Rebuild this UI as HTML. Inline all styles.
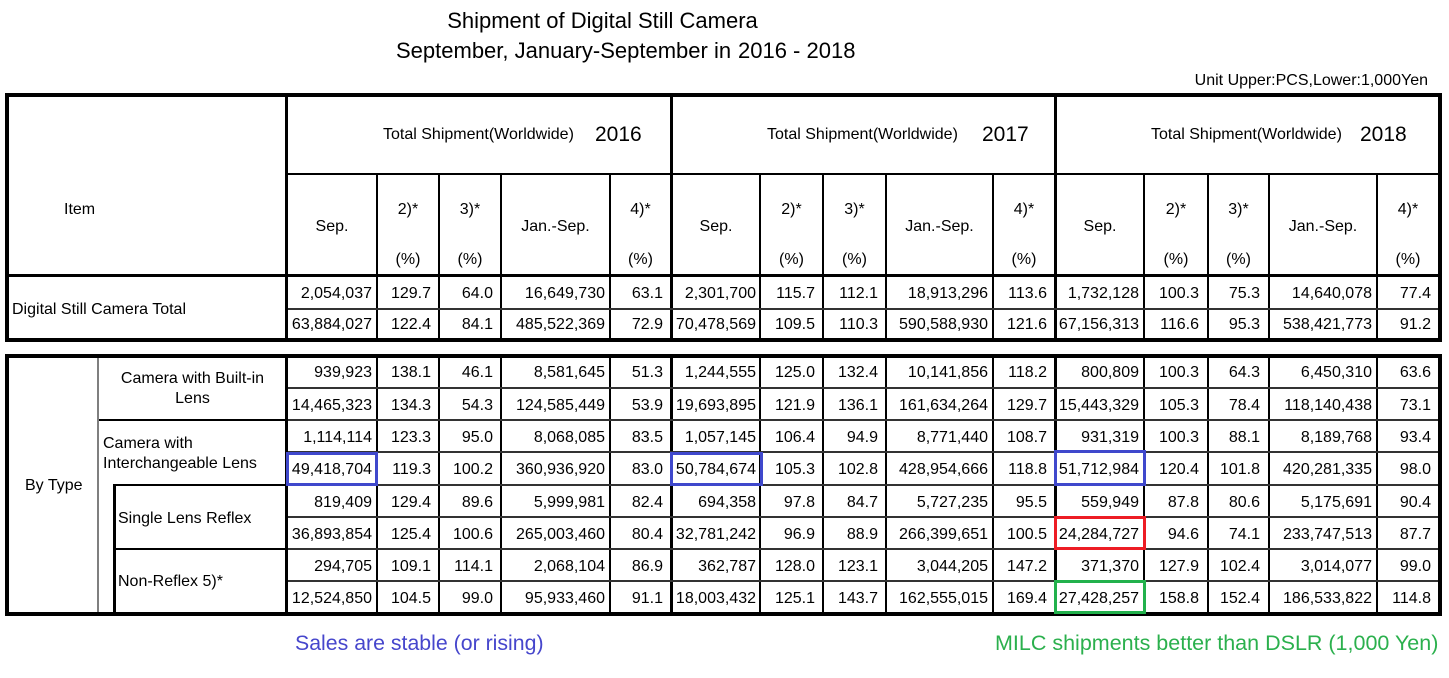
<!DOCTYPE html>
<html><head><meta charset="utf-8">
<style>
*{margin:0;padding:0}
body{width:1449px;height:678px;background:#fff;position:relative;overflow:hidden;font-family:"Liberation Sans",Arial,sans-serif;color:#000}
.a{position:absolute;white-space:nowrap}
.l{position:absolute;background:#000;display:block}
.g{background:#333}
.box{position:absolute;border:4px solid #000;box-sizing:border-box}
.bx{position:absolute;border:3px solid;box-sizing:border-box}
.row{position:absolute;left:0;width:1449px;height:31px;line-height:31px;font-size:16px}
.row span{position:absolute;top:0;height:31px;text-align:right;box-sizing:border-box;white-space:nowrap}
.c0{left:288px;width:88px;padding-right:4px}
.c1{left:378px;width:60px;padding-right:7px}
.c2{left:440px;width:60px;padding-right:7px}
.c3{left:502px;width:107px;padding-right:4px}
.c4{left:611px;width:59px;padding-right:7px}
.c5{left:673px;width:86px;padding-right:3px}
.c6{left:761px;width:61px;padding-right:7px}
.c7{left:824px;width:61px;padding-right:7px}
.c8{left:887px;width:105px;padding-right:4px}
.c9{left:994px;width:60px;padding-right:7px}
.c10{left:1057px;width:86px;padding-right:4px}
.c11{left:1145px;width:62px;padding-right:8px}
.c12{left:1209px;width:59px;padding-right:8px}
.c13{left:1270px;width:106px;padding-right:4px}
.c14{left:1378px;width:60px;padding-right:7px}
.h{position:absolute;text-align:center;font-size:16px;white-space:nowrap;height:20px;line-height:20px}
.t16{font-size:16px;height:20px;line-height:20px}
</style></head><body>

<!-- Title -->
<div class="a" style="left:0;width:1205px;text-align:center;top:10px;font-size:22px;line-height:22px;height:22px">Shipment of Digital Still Camera</div>
<div class="a" style="left:396px;top:40px;font-size:22px;line-height:22px;height:22px">September, January-September in</div>
<div class="a" style="left:738px;top:40px;font-size:22px;line-height:22px;height:22px">2016 - 2018</div>
<div class="a" style="left:100px;width:1328px;text-align:right;top:71px;font-size:16px;line-height:20px;height:20px">Unit Upper:PCS,Lower:1,000Yen</div>

<!-- Table 1 frame -->
<div class="box" style="left:5px;top:93px;width:1437px;height:249px"></div>
<i class="l" style="left:285px;top:93px;width:3px;height:249px"></i>
<i class="l" style="left:670px;top:93px;width:3px;height:249px"></i>
<i class="l" style="left:1054px;top:93px;width:3px;height:249px"></i>
<i class="l" style="left:288px;top:173px;width:1150px;height:2px"></i>
<i class="l" style="left:5px;top:274px;width:1437px;height:3px"></i>
<i class="l" style="left:376px;top:175px;width:2px;height:165px"></i>
<i class="l" style="left:438px;top:175px;width:2px;height:165px"></i>
<i class="l" style="left:500px;top:175px;width:2px;height:165px"></i>
<i class="l" style="left:609px;top:175px;width:2px;height:165px"></i>
<i class="l" style="left:759px;top:175px;width:2px;height:165px"></i>
<i class="l" style="left:822px;top:175px;width:2px;height:165px"></i>
<i class="l" style="left:885px;top:175px;width:2px;height:165px"></i>
<i class="l" style="left:992px;top:175px;width:2px;height:165px"></i>
<i class="l" style="left:1143px;top:175px;width:2px;height:165px"></i>
<i class="l" style="left:1207px;top:175px;width:2px;height:165px"></i>
<i class="l" style="left:1268px;top:175px;width:2px;height:165px"></i>
<i class="l" style="left:1376px;top:175px;width:2px;height:165px"></i>
<i class="l g" style="left:288px;top:308px;width:1150px;height:2px"></i>

<!-- Table 1 header -->
<div class="a t16" style="left:64px;top:200px">Item</div>
<div class="a t16" style="left:12px;top:300px">Digital Still Camera Total</div>

<div class="a t16" style="left:383px;top:125px">Total Shipment(Worldwide)</div>
<div class="a" style="left:595px;top:122px;font-size:21px;line-height:25px;height:25px">2016</div>
<div class="a t16" style="left:767px;top:125px">Total Shipment(Worldwide)</div>
<div class="a" style="left:982px;top:122px;font-size:21px;line-height:25px;height:25px">2017</div>
<div class="a t16" style="left:1151px;top:125px">Total Shipment(Worldwide)</div>
<div class="a" style="left:1360px;top:122px;font-size:21px;line-height:25px;height:25px">2018</div>

<!-- header row 2, 2016 -->
<div class="h" style="left:288px;width:88px;top:217px">Sep.</div>
<div class="h" style="left:378px;width:60px;top:200px">2)*</div>
<div class="h" style="left:378px;width:60px;top:250px">(%)</div>
<div class="h" style="left:440px;width:60px;top:200px">3)*</div>
<div class="h" style="left:440px;width:60px;top:250px">(%)</div>
<div class="h" style="left:502px;width:107px;top:217px">Jan.-Sep.</div>
<div class="h" style="left:611px;width:59px;top:200px">4)*</div>
<div class="h" style="left:611px;width:59px;top:250px">(%)</div>
<!-- 2017 -->
<div class="h" style="left:673px;width:86px;top:217px">Sep.</div>
<div class="h" style="left:761px;width:61px;top:200px">2)*</div>
<div class="h" style="left:761px;width:61px;top:250px">(%)</div>
<div class="h" style="left:824px;width:61px;top:200px">3)*</div>
<div class="h" style="left:824px;width:61px;top:250px">(%)</div>
<div class="h" style="left:887px;width:105px;top:217px">Jan.-Sep.</div>
<div class="h" style="left:994px;width:60px;top:200px">4)*</div>
<div class="h" style="left:994px;width:60px;top:250px">(%)</div>
<!-- 2018 -->
<div class="h" style="left:1057px;width:86px;top:217px">Sep.</div>
<div class="h" style="left:1145px;width:62px;top:200px">2)*</div>
<div class="h" style="left:1145px;width:62px;top:250px">(%)</div>
<div class="h" style="left:1209px;width:59px;top:200px">3)*</div>
<div class="h" style="left:1209px;width:59px;top:250px">(%)</div>
<div class="h" style="left:1270px;width:106px;top:217px">Jan.-Sep.</div>
<div class="h" style="left:1378px;width:60px;top:200px">4)*</div>
<div class="h" style="left:1378px;width:60px;top:250px">(%)</div>

<!-- Table 1 data -->
<div class="row" style="top:278px"><span class="c0">2,054,037</span><span class="c1">129.7</span><span class="c2">64.0</span><span class="c3">16,649,730</span><span class="c4">63.1</span><span class="c5">2,301,700</span><span class="c6">115.7</span><span class="c7">112.1</span><span class="c8">18,913,296</span><span class="c9">113.6</span><span class="c10">1,732,128</span><span class="c11">100.3</span><span class="c12">75.3</span><span class="c13">14,640,078</span><span class="c14">77.4</span></div>
<div class="row" style="top:309px"><span class="c0">63,884,027</span><span class="c1">122.4</span><span class="c2">84.1</span><span class="c3">485,522,369</span><span class="c4">72.9</span><span class="c5">70,478,569</span><span class="c6">109.5</span><span class="c7">110.3</span><span class="c8">590,588,930</span><span class="c9">121.6</span><span class="c10">67,156,313</span><span class="c11">116.6</span><span class="c12">95.3</span><span class="c13">538,421,773</span><span class="c14">91.2</span></div>

<!-- Table 2 frame -->
<div class="box" style="left:5px;top:354px;width:1437px;height:262px"></div>
<i class="l" style="left:285px;top:354px;width:3px;height:262px"></i>
<i class="l" style="left:670px;top:354px;width:3px;height:262px"></i>
<i class="l" style="left:1054px;top:354px;width:3px;height:262px"></i>
<i class="l" style="left:97px;top:358px;width:2px;height:254px;background:#7f7f7f"></i>
<i class="l" style="left:376px;top:358px;width:2px;height:254px"></i>
<i class="l" style="left:438px;top:358px;width:2px;height:254px"></i>
<i class="l" style="left:500px;top:358px;width:2px;height:254px"></i>
<i class="l" style="left:609px;top:358px;width:2px;height:254px"></i>
<i class="l" style="left:759px;top:358px;width:2px;height:254px"></i>
<i class="l" style="left:822px;top:358px;width:2px;height:254px"></i>
<i class="l" style="left:885px;top:358px;width:2px;height:254px"></i>
<i class="l" style="left:992px;top:358px;width:2px;height:254px"></i>
<i class="l" style="left:1143px;top:358px;width:2px;height:254px"></i>
<i class="l" style="left:1207px;top:358px;width:2px;height:254px"></i>
<i class="l" style="left:1268px;top:358px;width:2px;height:254px"></i>
<i class="l" style="left:1376px;top:358px;width:2px;height:254px"></i>
<i class="l g" style="left:288px;top:387px;width:1150px;height:2px"></i>
<i class="l g" style="left:288px;top:419px;width:1150px;height:2px"></i>
<i class="l g" style="left:288px;top:451px;width:1150px;height:2px"></i>
<i class="l g" style="left:288px;top:484px;width:1150px;height:2px"></i>
<i class="l g" style="left:288px;top:516px;width:1150px;height:2px"></i>
<i class="l g" style="left:288px;top:548px;width:1150px;height:2px"></i>
<i class="l g" style="left:288px;top:580px;width:1150px;height:2px"></i>
<i class="l" style="left:99px;top:419px;width:186px;height:2px"></i>
<i class="l" style="left:113px;top:484px;width:172px;height:2px"></i>
<i class="l" style="left:113px;top:548px;width:172px;height:2px"></i>
<i class="l" style="left:113px;top:484px;width:3px;height:130px"></i>

<!-- Table 2 labels -->
<div class="a t16" style="left:25px;top:476px">By Type</div>
<div class="a t16" style="left:99px;width:187px;text-align:center;top:369px">Camera with Built-in</div>
<div class="a t16" style="left:99px;width:187px;text-align:center;top:389px">Lens</div>
<div class="a t16" style="left:103px;top:434px">Camera with</div>
<div class="a t16" style="left:103px;top:454px">Interchangeable Lens</div>
<div class="a t16" style="left:118px;top:509px">Single Lens Reflex</div>
<div class="a t16" style="left:118px;top:572px">Non-Reflex 5)*</div>

<!-- Table 2 data -->
<div class="row" style="top:357px"><span class="c0">939,923</span><span class="c1">138.1</span><span class="c2">46.1</span><span class="c3">8,581,645</span><span class="c4">51.3</span><span class="c5">1,244,555</span><span class="c6">125.0</span><span class="c7">132.4</span><span class="c8">10,141,856</span><span class="c9">118.2</span><span class="c10">800,809</span><span class="c11">100.3</span><span class="c12">64.3</span><span class="c13">6,450,310</span><span class="c14">63.6</span></div>
<div class="row" style="top:390px"><span class="c0">14,465,323</span><span class="c1">134.3</span><span class="c2">54.3</span><span class="c3">124,585,449</span><span class="c4">53.9</span><span class="c5">19,693,895</span><span class="c6">121.9</span><span class="c7">136.1</span><span class="c8">161,634,264</span><span class="c9">129.7</span><span class="c10">15,443,329</span><span class="c11">105.3</span><span class="c12">78.4</span><span class="c13">118,140,438</span><span class="c14">73.1</span></div>
<div class="row" style="top:422px"><span class="c0">1,114,114</span><span class="c1">123.3</span><span class="c2">95.0</span><span class="c3">8,068,085</span><span class="c4">83.5</span><span class="c5">1,057,145</span><span class="c6">106.4</span><span class="c7">94.9</span><span class="c8">8,771,440</span><span class="c9">108.7</span><span class="c10">931,319</span><span class="c11">100.3</span><span class="c12">88.1</span><span class="c13">8,189,768</span><span class="c14">93.4</span></div>
<div class="row" style="top:454px"><span class="c0">49,418,704</span><span class="c1">119.3</span><span class="c2">100.2</span><span class="c3">360,936,920</span><span class="c4">83.0</span><span class="c5">50,784,674</span><span class="c6">105.3</span><span class="c7">102.8</span><span class="c8">428,954,666</span><span class="c9">118.8</span><span class="c10">51,712,984</span><span class="c11">120.4</span><span class="c12">101.8</span><span class="c13">420,281,335</span><span class="c14">98.0</span></div>
<div class="row" style="top:487px"><span class="c0">819,409</span><span class="c1">129.4</span><span class="c2">89.6</span><span class="c3">5,999,981</span><span class="c4">82.4</span><span class="c5">694,358</span><span class="c6">97.8</span><span class="c7">84.7</span><span class="c8">5,727,235</span><span class="c9">95.5</span><span class="c10">559,949</span><span class="c11">87.8</span><span class="c12">80.6</span><span class="c13">5,175,691</span><span class="c14">90.4</span></div>
<div class="row" style="top:519px"><span class="c0">36,893,854</span><span class="c1">125.4</span><span class="c2">100.6</span><span class="c3">265,003,460</span><span class="c4">80.4</span><span class="c5">32,781,242</span><span class="c6">96.9</span><span class="c7">88.9</span><span class="c8">266,399,651</span><span class="c9">100.5</span><span class="c10">24,284,727</span><span class="c11">94.6</span><span class="c12">74.1</span><span class="c13">233,747,513</span><span class="c14">87.7</span></div>
<div class="row" style="top:551px"><span class="c0">294,705</span><span class="c1">109.1</span><span class="c2">114.1</span><span class="c3">2,068,104</span><span class="c4">86.9</span><span class="c5">362,787</span><span class="c6">128.0</span><span class="c7">123.1</span><span class="c8">3,044,205</span><span class="c9">147.2</span><span class="c10">371,370</span><span class="c11">127.9</span><span class="c12">102.4</span><span class="c13">3,014,077</span><span class="c14">99.0</span></div>
<div class="row" style="top:583px"><span class="c0">12,524,850</span><span class="c1">104.5</span><span class="c2">99.0</span><span class="c3">95,933,460</span><span class="c4">91.1</span><span class="c5">18,003,432</span><span class="c6">125.1</span><span class="c7">143.7</span><span class="c8">162,555,015</span><span class="c9">169.4</span><span class="c10">27,428,257</span><span class="c11">158.8</span><span class="c12">152.4</span><span class="c13">186,533,822</span><span class="c14">114.8</span></div>

<!-- highlight boxes -->
<div class="bx" style="left:286px;top:452px;width:92px;height:34px;border-color:#3f48cc"></div>
<div class="bx" style="left:670px;top:452px;width:93px;height:34px;border-color:#3f48cc"></div>
<div class="bx" style="left:1054px;top:450px;width:92px;height:36px;border-color:#3f48cc"></div>
<div class="bx" style="left:1054px;top:516px;width:92px;height:34px;border-color:#ed1c24"></div>
<div class="bx" style="left:1054px;top:580px;width:92px;height:34px;border-color:#22b14c"></div>

<!-- annotations -->
<div class="a" style="left:295px;top:630px;font-size:21.3px;line-height:26px;height:26px;color:#4646cc">Sales are stable (or rising)</div>
<div class="a" style="left:995px;top:630px;font-size:21.5px;line-height:26px;height:26px;color:#2bb04d">MILC shipments better than DSLR (1,000 Yen)</div>

</body></html>
